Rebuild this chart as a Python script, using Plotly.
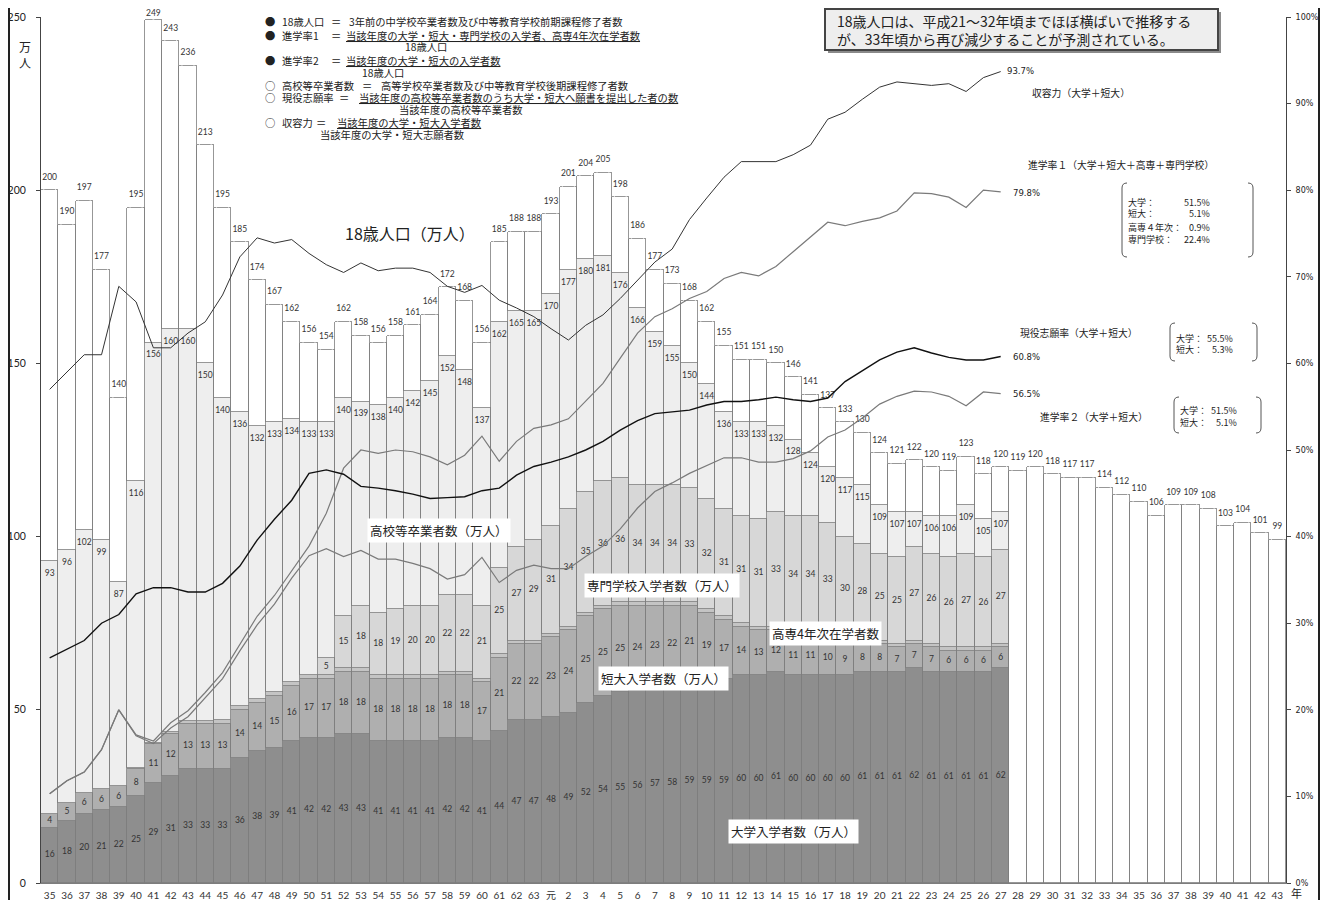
import plotly.graph_objects as go

# ---------------- data ----------------
years = ['35', '36', '37', '38', '39', '40', '41', '42', '43', '44', '45', '46', '47', '48', '49',
         '50', '51', '52', '53', '54', '55', '56', '57', '58', '59', '60', '61', '62', '63', '元',
         '2', '3', '4', '5', '6', '7', '8', '9', '10', '11', '12', '13', '14', '15', '16', '17',
         '18', '19', '20', '21', '22', '23', '24', '25', '26', '27', '28', '29', '30', '31', '32',
         '33', '34', '35', '36', '37', '38', '39', '40', '41', '42', '43']

pop18 = [200, 190, 197, 177, 140, 195, 249, 243, 236, 213, 195, 185, 174, 167, 162, 156, 154, 162,
         158, 156, 158, 161, 164, 172, 168, 156, 185, 188, 188, 193, 201, 204, 205, 198, 186, 177,
         173, 168, 162, 155, 151, 151, 150, 146, 141, 137, 133, 130, 124, 121, 122, 120, 119, 123,
         118, 120, 119, 120, 118, 117, 117, 114, 112, 110, 106, 109, 109, 108, 103, 104, 101, 99]

hs_grad = [93, 96, 102, 99, 87, 116, 156, 160, 160, 150, 140, 136, 132, 133, 134, 133, 133, 140,
           139, 138, 140, 142, 145, 152, 148, 137, 162, 165, 165, 170, 177, 180, 181, 176, 166, 159,
           155, 150, 144, 136, 133, 133, 132, 128, 124, 120, 117, 115, 109, 107, 107, 106, 106, 109,
           105, 107]

univ = [16, 18, 20, 21, 22, 25, 29, 31, 33, 33, 33, 36, 38, 39, 41, 42, 42, 43, 43, 41, 41, 41, 41,
        42, 42, 41, 44, 47, 47, 48, 49, 52, 54, 55, 56, 57, 58, 59, 59, 59, 60, 60, 61, 60, 60, 60,
        60, 61, 61, 61, 62, 61, 61, 61, 61, 62]

jcol = [4, 5, 6, 6, 6, 8, 11, 12, 13, 13, 13, 14, 14, 15, 16, 17, 17, 18, 18, 18, 18, 18, 18, 18, 18,
        17, 21, 22, 22, 23, 24, 25, 25, 25, 24, 23, 22, 21, 19, 17, 14, 13, 12, 11, 11, 10, 9, 8, 8,
        7, 7, 7, 6, 6, 6, 6]

kosen4 = [None, None, None, None, None, 0.3, 0.5, 0.7, 0.8, 0.9, 1, 1, 1, 1, 1, 1, 1, 1, 1, 1, 1, 1,
          1, 1, 1, 1, 1, 1, 1, 1, 1, 1, 1, 1, 1, 1, 1, 1, 1, 1, 1, 1, 1, 1, 1, 1, 1, 1, 1, 1, 1, 1,
          1, 1, 1, 1]

voc = [None, None, None, None, None, None, None, None, None, None, None, None, None, None, None,
       None, 5, 15, 18, 18, 19, 20, 20, 22, 22, 21, 25, 27, 29, 31, 34, 35, 36, 36, 34, 34, 34, 33,
       32, 31, 31, 31, 33, 34, 34, 33, 30, 28, 25, 25, 27, 26, 26, 27, 26, 27]

rate1 = [10.3, 11.8, 12.8, 15.4, 20.0, 17.1, 16.4, 18.5, 19.9, 22.0, 24.3, 27.6, 30.8, 33.2, 36.1,
         38.9, 42.7, 47.9, 50.0, 49.6, 50.0, 49.8, 49.2, 48.3, 49.4, 51.6, 48.7, 51.0, 52.5, 52.9,
         53.6, 55.6, 57.7, 60.6, 63.5, 65.4, 66.3, 67.5, 68.3, 69.8, 70.5, 70.1, 71.2, 72.9, 74.6,
         76.3, 75.9, 76.4, 76.8, 77.6, 79.7, 79.6, 79.2, 78.0, 80.0, 79.8]

rate2 = [10.3, 11.8, 12.8, 15.4, 20.0, 17.0, 16.1, 17.9, 19.2, 21.4, 23.6, 26.8, 29.8, 32.2, 35.2,
         37.8, 38.6, 37.7, 38.4, 37.4, 37.4, 36.9, 36.3, 35.1, 35.6, 37.6, 34.7, 36.1, 36.7, 36.3,
         36.3, 37.7, 38.9, 40.9, 43.3, 45.2, 46.2, 47.3, 48.2, 49.1, 49.1, 48.6, 48.6, 49.0, 49.9,
         51.5, 52.3, 53.7, 55.3, 56.2, 56.8, 56.7, 56.2, 55.1, 56.7, 56.5]

apply_rate = [26.0, 27.0, 28.0, 30.0, 31.0, 33.4, 34.1, 34.1, 33.6, 33.6, 34.6, 36.6, 39.6, 42.0,
              44.2, 47.3, 47.7, 47.2, 45.8, 45.6, 45.3, 44.9, 44.4, 44.5, 44.6, 45.3, 45.6, 47.1,
              48.1, 48.6, 49.2, 50.0, 51.0, 52.3, 53.4, 54.2, 54.4, 54.6, 55.2, 55.6, 55.6, 55.8,
              56.1, 55.8, 55.6, 56.0, 57.9, 59.2, 60.4, 61.3, 61.8, 61.2, 60.7, 60.4, 60.4, 60.8]

capacity = [57.0, 59.0, 61.0, 61.0, 68.9, 67.1, 61.8, 61.8, 63.5, 64.8, 67.9, 72.3, 74.5, 73.9, 74.3,
            72.7, 71.4, 70.5, 71.6, 70.7, 71.0, 71.0, 70.5, 68.9, 68.2, 69.0, 67.3, 66.4, 65.4, 64.0,
            62.7, 64.4, 65.6, 67.5, 69.6, 71.7, 73.2, 76.6, 79.1, 81.5, 83.3, 83.3, 83.3, 84.1, 85.2,
            88.2, 89.0, 90.5, 91.9, 92.5, 92.3, 92.1, 92.3, 91.4, 93.0, 93.7]

# ---------------- geometry helpers (page pixel -> paper) ----------------
OFF = 8                      # default body margin of the html page
W, H = 1328 - 2 * OFF, 908 - 2 * OFF
PL, PR, PT, PB = 41, 1286, 17, 883   # plot area in page pixels


def X(px):
    return (px - PL) / (PR - PL)


def Y(py):
    return (PB - py) / (PB - PT)


n = len(univ)
xi = list(range(len(years)))
xh = xi[:n]


def nz(v):
    return 0 if v is None else v


lower = [nz(u) + nz(j) + nz(k) + nz(v) for u, j, k, v in zip(univ, jcol, kosen4, voc)]
hs_rest = [h - lo for h, lo in zip(hs_grad, lower)]
pop_rest = [p - h for p, h in zip(pop18[:n], hs_grad)] + pop18[n:]

OUT = '#7d7d7d'
NUMFONT = 'Lato, Noto Sans CJK JP, sans-serif'
JP = 'Noto Sans CJK JP'

fig = go.Figure()


def bar(x, y, color):
    return go.Bar(x=x, y=y, marker=dict(color=color, line=dict(color=OUT, width=0.8)),
                  hoverinfo='skip', showlegend=False)


fig.add_trace(bar(xh, univ, '#8e8e8e'))
fig.add_trace(bar(xh, jcol, '#afafaf'))
fig.add_trace(bar(xh, kosen4, '#c4c4c4'))
fig.add_trace(bar(xh, voc, '#d7d7d7'))
fig.add_trace(bar(xh, hs_rest, '#eeeeee'))
fig.add_trace(bar(xi, pop_rest, '#ffffff'))


def lab(x, y, text, pos='middle center', gap=0):
    return go.Scatter(x=x, y=y, text=text, mode='markers+text' if gap else 'text',
                      textposition=pos, marker=dict(size=gap if gap else 1, color='rgba(0,0,0,0)'),
                      textfont=dict(family=NUMFONT, size=8.5, color='#333'),
                      hoverinfo='skip', showlegend=False, cliponaxis=False)


fig.add_trace(lab(xh, [u / 2 for u in univ], [str(u) for u in univ]))
fig.add_trace(lab(xh, [u + j / 2 for u, j in zip(univ, jcol)], [str(j) for j in jcol]))
vx = [x for x, v in zip(xh, voc) if v is not None]
vy = [u + j + nz(k) + v / 2 for u, j, k, v in zip(univ, jcol, kosen4, voc) if v is not None]
vt = [str(v) for v in voc if v is not None]
fig.add_trace(lab(vx, vy, vt))
fig.add_trace(lab(xh, hs_grad, [str(h) for h in hs_grad], 'bottom center', gap=12))
fig.add_trace(lab(xi, pop18, [str(p) for p in pop18], 'top center',
                  gap=[12 if p < 245 else 2 for p in pop18]))


def line(y, color, width):
    return go.Scatter(x=xh, y=y, yaxis='y2', mode='lines', line=dict(color=color, width=width),
                      hoverinfo='skip', showlegend=False)


fig.add_trace(line(rate2, '#7a7a7a', 1.2))
fig.add_trace(line(rate1, '#7a7a7a', 1.2))
fig.add_trace(line(capacity, '#333333', 1.0))
fig.add_trace(line(apply_rate, '#111111', 1.4))

# ---------------- annotations ----------------
ann = []


def A(text, px, py, size=10, xanchor='left', family=JP, color='#222', **kw):
    ann.append(dict(text=text, x=X(px), y=Y(py), xref='paper', yref='paper', xanchor=xanchor,
                    yanchor='middle', showarrow=False, borderpad=kw.pop('borderpad', 0),
                    font=dict(family=family, size=size, color=color), **kw))


# legend-like definitions (top)
LS = 10.3
rows = [
    (22, '●', '18歳人口', 336, '3年前の中学校卒業者数及び中等教育学校前期課程修了者数', 348),
    (35, '●', '進学率1', 336, '<u>当該年度の大学・短大・専門学校の入学者、高専4年次在学者数</u>', 345),
    (60, '●', '進学率2', 336, '<u>当該年度の大学・短大の入学者数</u>', 345),
    (85, '○', '高校等卒業者数', 367, '高等学校卒業者数及び中等教育学校後期課程修了者数', 380),
    (97, '○', '現役志願率', 344, '<u>当該年度の高校等卒業者数のうち大学・短大へ願書を提出した者の数</u>', 358),
    (122, '○', '収容力', 321, '<u>当該年度の大学・短大入学者数</u>', 336),
]
for py, mk, name, eqx, rhs, rx in rows:
    A(mk, 264, py, LS)
    A(name, 281, py, LS)
    A('＝', eqx, py, LS, xanchor='center')
    A(rhs, rx, py, LS)
A('18歳人口', 426, 47, LS, xanchor='center')
A('18歳人口', 383, 72, LS, xanchor='center')
A('当該年度の高校等卒業者数', 461, 110, LS, xanchor='center')
A('当該年度の大学・短大志願者数', 392, 135, LS, xanchor='center')

# top-right message box text
A('18歳人口は、平成21～32年頃までほぼ横ばいで推移する<br>が、33年頃から再び減少することが予測されている。',
  836, 30, 14, align='left')

# right side labels
PF = 'DejaVu Sans'
A('93.7%', 1006, 71, 8.5, family=PF)
A('79.8%', 1012, 193, 8.5, family=PF)
A('60.8%', 1012, 357, 8.5, family=PF)
A('56.5%', 1012, 394, 8.5, family=PF)
A('収容力（大学＋短大）', 1031, 93, 9.8)
A('進学率１（大学＋短大＋高専＋専門学校）', 1027, 165, 9.8)
A('現役志願率（大学＋短大）', 1019, 333, 9.8)
A('進学率２（大学＋短大）', 1039, 417, 9.8)

BS = 9
for py, k, v in [(202, '大学：', '51.5%'), (214, '短大：', '5.1%'),
                 (227, '高専４年次：', '0.9%'), (240, '専門学校：', '22.4%')]:
    A(k, 1127, py, BS)
    A(v, 1211, py, BS, xanchor='right')
for py, k, v in [(338, '大学：', '55.5%'), (350, '短大：', '5.3%')]:
    A(k, 1175, py, BS)
    A(v, 1234, py, BS, xanchor='right')
for py, k, v in [(410, '大学：', '51.5%'), (422, '短大：', '5.1%')]:
    A(k, 1179, py, BS)
    A(v, 1238, py, BS, xanchor='right')

# series labels inside the chart
A('18歳人口（万人）', 410, 233, 16, xanchor='center')
A('高校等卒業者数（万人）', 439, 530, 12.5, xanchor='center', bgcolor='white', borderpad=2)
A('専門学校入学者数（万人）', 662, 585, 12.5, xanchor='center', bgcolor='white', borderpad=2)
A('高専4年次在学者数', 825, 633, 12.5, xanchor='center', bgcolor='white', borderpad=2)
A('短大入学者数（万人）', 663, 678, 12.5, xanchor='center', bgcolor='white', borderpad=2)
A('大学入学者数（万人）', 793, 831, 12.5, xanchor='center', bgcolor='white', borderpad=2)

# axis titles
A('万<br>人', 25, 54, 12, xanchor='center')
A('年', 1296, 893, 11, xanchor='center')

# ---------------- shapes ----------------
shapes = []


def bracket(x0, x1, y0, y1, r=5):
    for xs, sgn in ((x0, 1), (x1, -1)):
        p = (f"M {X(xs + sgn * r)},{Y(y0)} Q {X(xs)},{Y(y0)} {X(xs)},{Y(y0 + r)} "
             f"L {X(xs)},{Y(y1 - r)} Q {X(xs)},{Y(y1)} {X(xs + sgn * r)},{Y(y1)}")
        shapes.append(dict(type='path', path=p, xref='paper', yref='paper',
                           line=dict(color='#555', width=1)))


bracket(1122, 1253, 183, 257)
bracket(1170, 1257, 323, 361)
bracket(1174, 1261, 397, 433)

# message box with shadow
shapes.append(dict(type='rect', xref='paper', yref='paper', x0=X(828), x1=X(1221), y0=Y(53), y1=Y(12),
                   fillcolor='#8a8a8a', line=dict(width=0), layer='above'))
shapes.append(dict(type='rect', xref='paper', yref='paper', x0=X(825), x1=X(1218), y0=Y(50), y1=Y(9),
                   fillcolor='#eeeeee', line=dict(color='#444', width=2), layer='above'))

# outer frame lines
for px in (9, 1319):
    shapes.append(dict(type='line', xref='paper', yref='paper', x0=X(px), x1=X(px),
                       y0=Y(PB + 40), y1=Y(0), line=dict(color='#222', width=2)))

fig.update_layout(
    width=W, height=H, autosize=False,
    margin=dict(l=PL - OFF, r=W - (PR - OFF), t=PT - OFF, b=H - (PB - OFF), autoexpand=False),
    barmode='stack', bargap=0,
    paper_bgcolor='white', plot_bgcolor='white',
    font=dict(family=JP, color='#222'),
    xaxis=dict(range=[-0.5, len(years) - 0.5], tickmode='array', tickvals=xi, ticktext=years,
               showgrid=False, zeroline=False, showline=True, linecolor='#7d7d7d', ticks='',
               automargin=False,
               tickfont=dict(family=NUMFONT, size=10, color='#333'), ticklabelstandoff=3),
    yaxis=dict(range=[0, 250], tickmode='array', tickvals=[0, 50, 100, 150, 200, 250],
               showgrid=False, zeroline=False, showline=True, linecolor='#444', ticks='outside',
               ticklen=4, tickcolor='#444', tickfont=dict(family=NUMFONT, size=10.5, color='#222'),
               ticklabelstandoff=8, automargin=False),
    yaxis2=dict(range=[0, 100], overlaying='y', side='right', tick0=0, dtick=10, ticksuffix='%',
                showgrid=False, zeroline=False, showline=True, linecolor='#444', ticks='outside',
                ticklen=4, tickcolor='#444', tickfont=dict(family=PF, size=8, color='#222'),
                ticklabelstandoff=3, automargin=False),
    annotations=ann,
    shapes=shapes,
)

fig.write_html('out.html')
